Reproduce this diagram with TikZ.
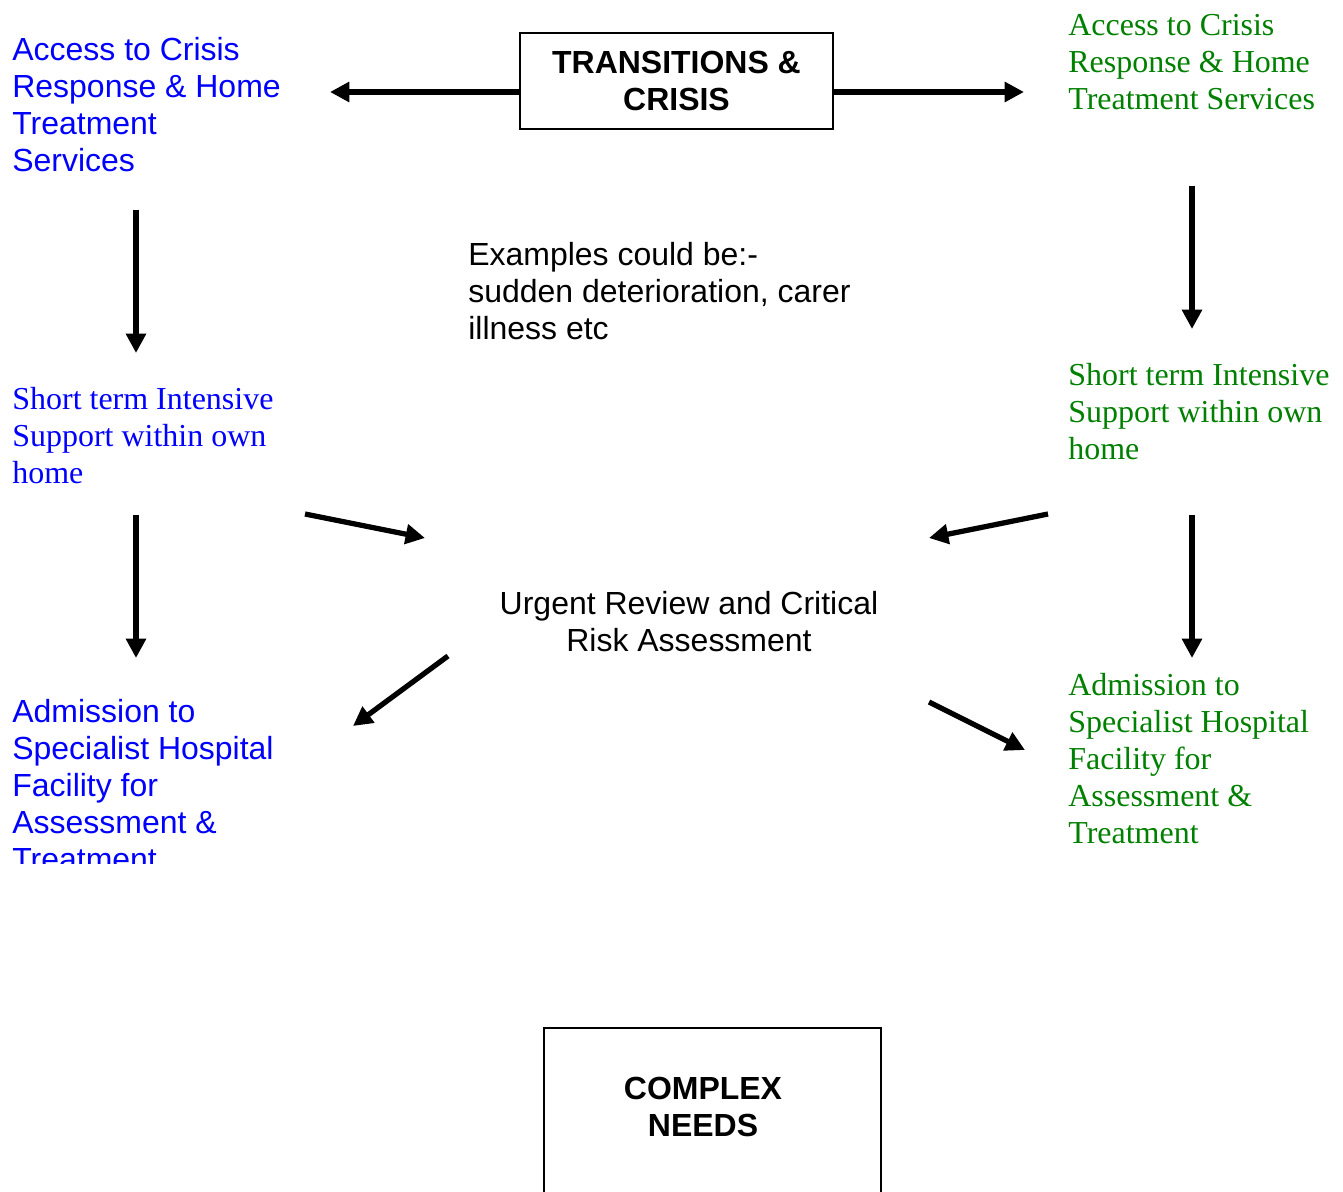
\documentclass[tikz,border=0pt]{standalone}
\usepackage{fontspec}
\setmainfont{Liberation Serif}
\setsansfont{Liberation Sans}
\usepackage{xcolor}
\usetikzlibrary{arrows.meta}
\definecolor{darkgreen}{RGB}{0,128,0}

\begin{document}
\begin{tikzpicture}[x=0.02cm,y=-0.02cm,
  every node/.style={inner sep=0pt,align=left},
  bluesans/.style={anchor=north west,text=blue,font=\sffamily\fontsize{18.2}{21}\selectfont},
  blueserif/.style={anchor=north west,text=blue,font=\rmfamily\fontsize{18.2}{21}\selectfont},
  greenserif/.style={anchor=north west,text=darkgreen,font=\rmfamily\fontsize{18.2}{21}\selectfont},
  plainsans/.style={font=\sffamily\fontsize{18.2}{21}\selectfont},
  boxtext/.style={align=center,font=\sffamily\bfseries\fontsize{18.2}{21}\selectfont},
  boxline/.style={draw,line width=1.1pt},
  arr/.style={line width=3pt,-{Triangle[length=11pt,width=11pt]}}]
\useasboundingbox (0,0) rectangle (1343,1192);

\coordinate (la) at (330,92);
\coordinate (ra) at (1024,92);
\coordinate (l1) at (136,210);
\coordinate (l2) at (136,353);
\coordinate (r1) at (1192,186);
\coordinate (r2) at (1192,329);
\coordinate (l3) at (136,515);
\coordinate (l4) at (136,658);
\coordinate (r3) at (1192,515);
\coordinate (r4) at (1192,658);
\coordinate (d1) at (305,514);
\coordinate (d2) at (425,538);
\coordinate (d3) at (1048,514);
\coordinate (d4) at (929,538);
\coordinate (d5) at (448,656);
\coordinate (d6) at (353,726);
\coordinate (d7) at (929,702);
\coordinate (d8) at (1025,750);

  % top box and its two arrows
  \node[boxtext,boxline,minimum width=6.26cm,minimum height=1.92cm] (trans) at (676.5,81) {TRANSITIONS \&\\CRISIS};
  \draw[arr] (trans.west |- la) -- (la);
  \draw[arr] (trans.east |- ra) -- (ra);

  % left column
  \node[bluesans] (crisisL) at (12,37) {Access to Crisis\\Response \& Home\\Treatment\\Services};
  \node[blueserif] (shortL) at (12,387) {Short term Intensive\\Support within own\\home};
  \begin{scope}
  \clip (0,0) rectangle (400,863);
  \node[bluesans] (admitL) at (12,699) {Admission to\\Specialist Hospital\\Facility for\\Assessment \&\\Treatment};
  \end{scope}

  % right column
  \node[greenserif] (crisisR) at (1068,14) {Access to Crisis\\Response \& Home\\Treatment Services};
  \node[greenserif] (shortR) at (1068,363) {Short term Intensive\\Support within own\\home};
  \node[greenserif] (admitR) at (1068,673) {Admission to\\Specialist Hospital\\Facility for\\Assessment \&\\Treatment};

  % middle
  \node[plainsans,anchor=north west] (examples) at (468,242) {Examples could be:-\\sudden deterioration, carer\\illness etc};
  \node[plainsans,align=center,anchor=north] (urgent) at (689,591) {Urgent Review and Critical\\Risk Assessment};

  \draw[arr] (l1) -- (l2);
  \draw[arr] (r1) -- (r2);
  \draw[arr] (l3) -- (l4);
  \draw[arr] (r3) -- (r4);
  \draw[arr] (d1) -- (d2);
  \draw[arr] (d3) -- (d4);
  \draw[arr] (d5) -- (d6);
  \draw[arr] (d7) -- (d8);

  % bottom box, runs off the page
  \draw[boxline] (544,1028) rectangle (881,1210);
  \node[boxtext] (needs) at (703,1107) {COMPLEX\\NEEDS};
\end{tikzpicture}
\end{document}
